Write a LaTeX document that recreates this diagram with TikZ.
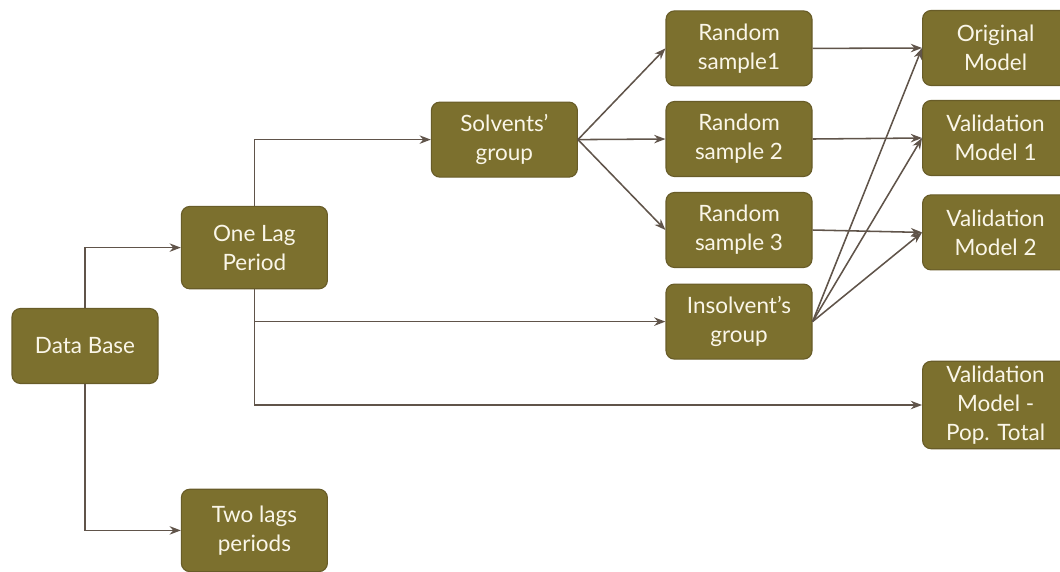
\documentclass[tikz,border=0pt]{standalone}
\usepackage{fontspec}
\setmainfont{Lato}
\usetikzlibrary{arrows.meta, positioning}
\definecolor{boxfill}{RGB}{124,112,46}
\definecolor{boxline}{RGB}{104,92,40}
\definecolor{wirecol}{RGB}{96,84,74}
\definecolor{boxtext}{RGB}{250,246,232}
\tikzset{
    stage/.style={
        rectangle, rounded corners=6pt, draw=boxline, line width=0.8pt,
        fill=boxfill, text=boxtext, align=center,
        minimum width=3.65cm, minimum height=1.875cm,
        font=\fontsize{16}{20.5}\selectfont
    },
    tall/.style={minimum height=2.06cm},
    flow/.style={draw=wirecol, line width=1.1pt, -{Stealth[length=8pt, width=6pt]}}
}

\begin{document}
\begin{tikzpicture}
\useasboundingbox (0,0) rectangle (26.5,-14.275);

% Left column
\node[stage] (db) at (2.125,-8.65) {Data Base};
\node[stage, tall] (onelag) at (6.36,-6.19) {One Lag\\Period};
\node[stage, tall] (twolag) at (6.36,-13.26) {Two lags\\periods};

% Groups
\node[stage] (solv) at (12.61,-3.49) {Solvents'\\group};

% Samples
\node[stage] (rs1) at (18.475,-1.21) {Random\\sample1};
\node[stage] (rs2) at (18.475,-3.475) {Random\\sample 2};
\node[stage] (rs3) at (18.475,-5.75) {Random\\sample 3};
\node[stage] (insolv) at (18.475,-8.04) {Insolvent's\\group};

% Models (right side)
\node[stage] (orig) at (24.89,-1.2) {Original\\Model};
\node[stage] (val1) at (24.89,-3.45) {Validation\\Model 1};
\node[stage] (val2) at (24.89,-5.81) {Validation\\Model 2};
\node[stage, tall] (valpop) at (24.89,-10.125) {Validation\\Model -\\Pop. Total};

% Lag split
\draw[flow] (db.north) |- (onelag.west);
\draw[flow] (db.south) |- (twolag.west);
\draw[flow] (onelag.north) |- (solv.west);
\draw[flow] (onelag.south) |- (insolv.west);
\draw[flow] (onelag.south) |- (valpop.west);

% Sampling
\draw[flow] (solv.east) -- (rs1.west);
\draw[flow] (solv.east) -- (rs2.west);
\draw[flow] (solv.east) -- (rs3.west);

% Model fitting
\draw[flow] (rs1.east) -- (orig.west);
\draw[flow] (rs2.east) -- (val1.west);
\draw[flow] (rs3.east) -- (val2.west);
\draw[flow] (insolv.east) -- (orig.west);
\draw[flow] (insolv.east) -- (val1.west);
\draw[flow] (insolv.east) -- (val2.west);

\end{tikzpicture}
\end{document}
